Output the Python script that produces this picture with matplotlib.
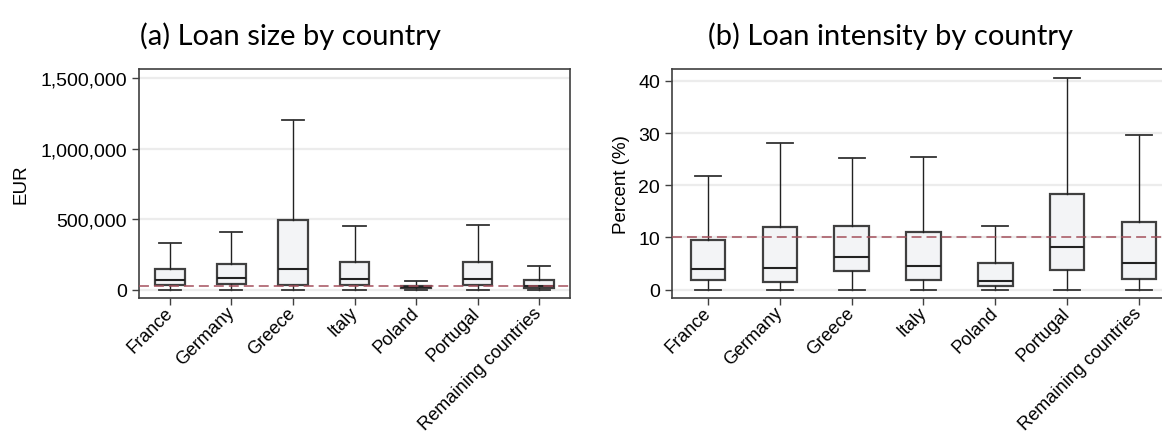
import matplotlib
matplotlib.use("Agg")
import matplotlib.pyplot as plt
from matplotlib.ticker import StrMethodFormatter

# data
countries = ["France", "Germany", "Greece", "Italy", "Poland", "Portugal",
             "Remaining countries"]

# (a) loan size, EUR
size_low = [0, 0, 0, 0, 0, 0, 0]
size_q1 = [32000, 40000, 35000, 33000, 10000, 33000, 15000]
size_med = [72000, 82000, 150000, 75000, 18000, 77000, 30000]
size_q3 = [146000, 182000, 497000, 196000, 27000, 196000, 70000]
size_high = [330000, 407000, 1201000, 451000, 60000, 456000, 165000]
size_ref = 28000

# (b) loan intensity, percent
int_low = [0, 0, 0, 0, 0, 0, 0]
int_q1 = [1.8, 1.5, 3.6, 1.8, 0.65, 3.8, 2.1]
int_med = [4.0, 4.1, 6.2, 4.5, 1.7, 8.1, 5.2]
int_q3 = [9.55, 12.1, 12.15, 11.1, 5.15, 18.3, 12.9]
int_high = [21.75, 28.1, 25.25, 25.45, 12.2, 40.6, 29.6]
int_ref = 10

plt.rcParams['font.family'] = ['Liberation Sans', 'DejaVu Sans']

frame_col = "#404040"
box_fill = "#f3f4f6"
ref_col = "#a4505c"


def make_stats(low, q1, med, q3, high):
    return [dict(whislo=a, q1=b, med=c, q3=d, whishi=e, label=n)
            for a, b, c, d, e, n in zip(low, q1, med, q3, high, countries)]


def draw(ax, stats, ref):
    pos = list(range(1, len(stats) + 1))
    ax.bxp(stats, positions=pos, widths=0.48, showfliers=False,
           patch_artist=True,
           boxprops=dict(facecolor=box_fill, edgecolor=frame_col, linewidth=1.6),
           medianprops=dict(color="#222222", linewidth=1.5),
           whiskerprops=dict(color="#222222", linewidth=1.0),
           capprops=dict(color="#333333", linewidth=1.3),
           capwidths=0.36)
    ax.axhline(ref, color=ref_col, linestyle=(0, (6.5, 3.3)), linewidth=1.1,
               zorder=3)
    ax.set_xlim(0.5, len(stats) + 0.5)
    ax.grid(axis="y", color="#ececec", linewidth=1.6)
    ax.set_axisbelow(True)
    for s in ax.spines.values():
        s.set_color(frame_col)
        s.set_linewidth(1.2)
    ax.tick_params(axis="both", colors=frame_col, length=5, width=1,
                   labelsize=14, labelcolor="black")
    ax.set_xticks(pos)
    ax.set_xticklabels(countries, rotation=45, ha="right", va="center",
                       rotation_mode="anchor", fontsize=13.1)


fig = plt.figure(figsize=(11.62, 4.35), dpi=100)

ax1 = fig.add_axes([139 / 1162, 1 - 299 / 435, 431 / 1162, 229 / 435])
draw(ax1, make_stats(size_low, size_q1, size_med, size_q3, size_high), size_ref)
ax1.set_ylim(-58000, 1563000)
ax1.set_yticks([0, 500000, 1000000, 1500000])
ax1.yaxis.set_major_formatter(StrMethodFormatter("{x:,.0f}"))
ax1.set_ylabel("EUR", fontsize=13.5, labelpad=8)

ax2 = fig.add_axes([672 / 1162, 1 - 299 / 435, 503 / 1162, 229 / 435])
draw(ax2, make_stats(int_low, int_q1, int_med, int_q3, int_high), int_ref)
ax2.set_ylim(-1.6, 42.3)
ax2.set_yticks([0, 10, 20, 30, 40])
ax2.set_ylabel("Percent (%)", fontsize=13.5, labelpad=6)

fig.text(290 / 1162, 1 - 36 / 435, "(a) Loan size by country",
         ha="center", va="center", fontsize=21, family=["Lato", "DejaVu Sans"])
fig.text(890 / 1162, 1 - 36 / 435, "(b) Loan intensity by country",
         ha="center", va="center", fontsize=21, family=["Lato", "DejaVu Sans"])

fig.savefig("out.png", dpi=100)
